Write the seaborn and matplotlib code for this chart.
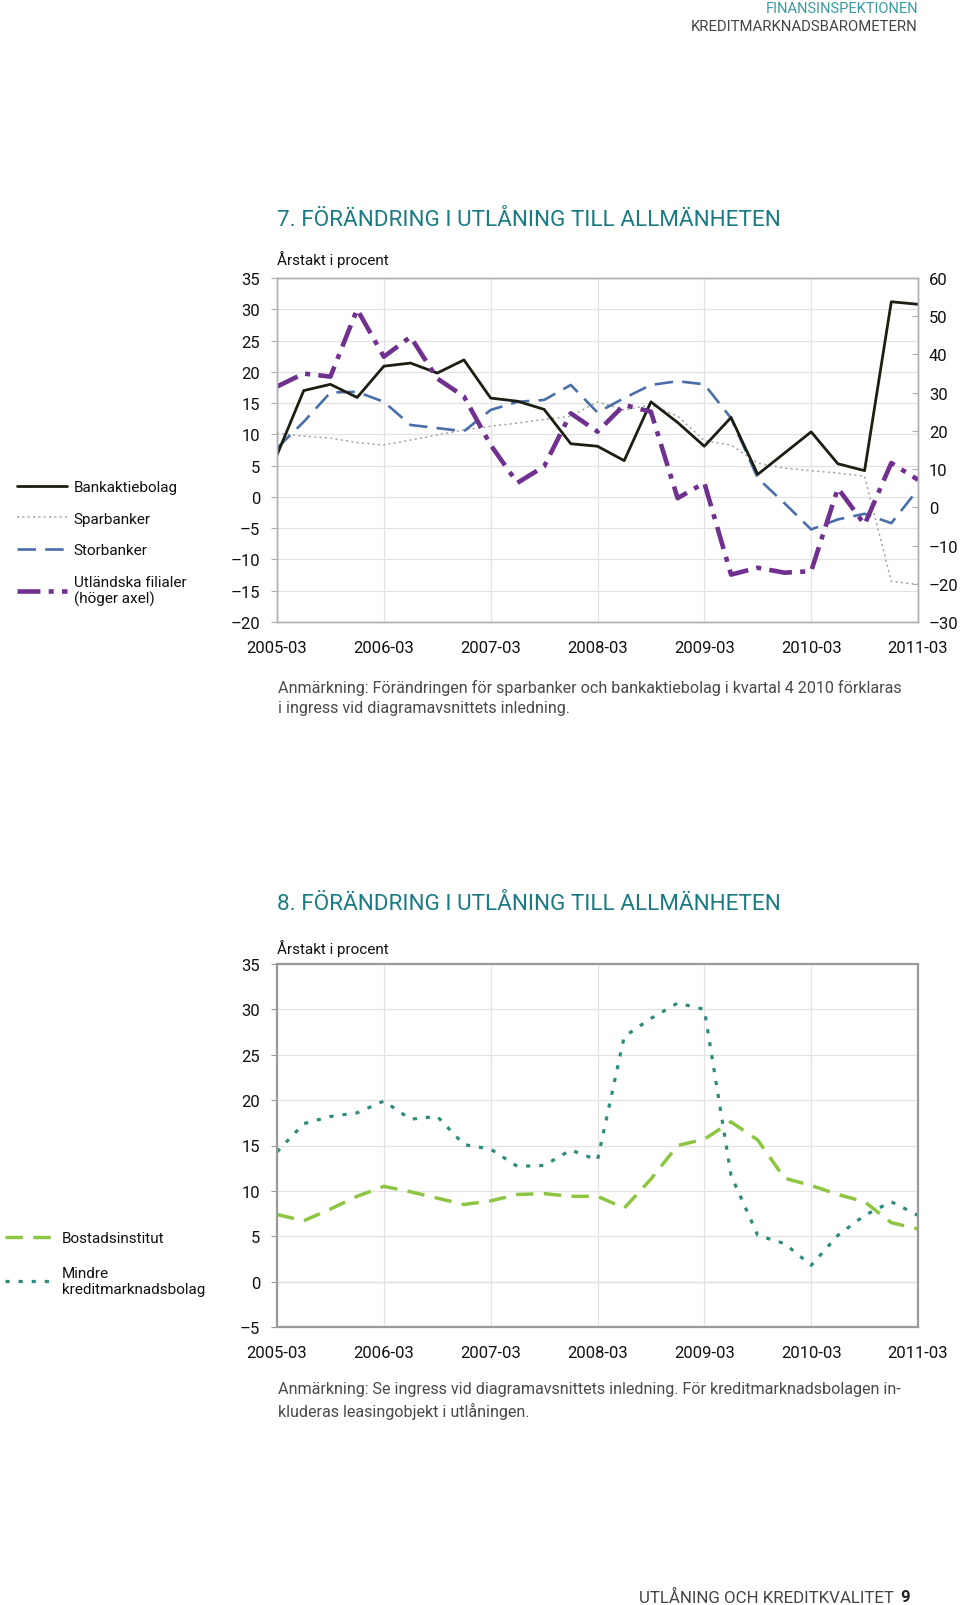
import numpy as np
import matplotlib
matplotlib.use("Agg")
import matplotlib.pyplot as plt
import seaborn as sns

quarters = ["2005-03", "2005-06", "2005-09", "2005-12",
            "2006-03", "2006-06", "2006-09", "2006-12",
            "2007-03", "2007-06", "2007-09", "2007-12",
            "2008-03", "2008-06", "2008-09", "2008-12",
            "2009-03", "2009-06", "2009-09", "2009-12",
            "2010-03", "2010-06", "2010-09", "2010-12",
            "2011-03"]

# Chart 7 (left axis unless noted)
bankaktiebolag = [6.7, 17.0, 18.0, 15.9, 20.9, 21.4, 19.8, 21.9, 15.8, 15.3, 14.0, 8.5,
                  8.1, 5.8, 15.2, 11.9, 8.1, 12.7, 3.6, 7.0, 10.4, 5.3, 4.2, 31.2, 30.8]
sparbanker = [10.2, 9.7, 9.4, 8.7, 8.3, 9.1, 9.9, 10.7, 11.3, 11.8, 12.4, 12.9,
              15.2, 13.9, 14.7, 12.9, 9.0, 8.3, 5.4, 4.6, 4.2, 3.8, 3.3, -13.5, -14.0]
storbanker = [7.8, 12.0, 16.7, 16.8, 15.2, 11.5, 11.0, 10.5, 13.9, 15.2, 15.5, 17.9,
              13.5, 15.8, 17.9, 18.5, 18.0, 12.6, 3.0, -1.0, -5.2, -3.6, -2.7, -4.2, 1.2]
utlandska_filialer = [31.6, 35.0, 34.2, 51.8, 39.4, 44.6, 33.7, 29.0, 16.3, 6.4, 10.7, 24.6,
                      19.8, 26.8, 25.0, 2.4, 6.4, -17.6, -15.8, -17.1, -16.7, 5.0, -4.5, 11.6, 7.2]  # right axis

# Chart 8
bostadsinstitut = [7.4, 6.7, 8.0, 9.4, 10.5, 9.9, 9.2, 8.5, 8.9, 9.6, 9.7, 9.4,
                   9.4, 8.1, 11.3, 15.0, 15.7, 17.6, 15.6, 11.4, 10.6, 9.6, 8.8, 6.5, 5.8]
mindre_kmb = [14.3, 17.4, 18.2, 18.6, 19.9, 17.9, 18.2, 15.1, 14.6, 12.7, 12.8, 14.5,
              13.4, 27.0, 29.0, 30.7, 30.0, 11.7, 5.1, 4.2, 1.8, 5.1, 7.3, 8.8, 7.3]

left1_ticks = [-20, -15, -10, -5, 0, 5, 10, 15, 20, 25, 30, 35]
right1_ticks = [-30, -20, -10, 0, 10, 20, 30, 40, 50, 60]
left2_ticks = [-5, 0, 5, 10, 15, 20, 25, 30, 35]
year_labels = ["2005-03", "2006-03", "2007-03", "2008-03", "2009-03", "2010-03", "2011-03"]

sns.set_theme(style="white")
plt.rcParams['font.family'] = ['Roboto', 'DejaVu Sans']

W, H = 960, 1606
fig = plt.figure(figsize=(W / 100, H / 100), dpi=100)

def fx(px):
    return px / W

def fy(py):
    return 1 - py / H

def fmt(t):
    return str(t).replace("-", "\u2013")

TEAL = "#1b7b83"
GRID = "#e2e2e2"
x = np.arange(len(quarters))
year_pos = [quarters.index(q) for q in year_labels]

def style_axis(ax, ticks, edge, lw):
    ax.set_xlim(0, len(quarters) - 1)
    ax.set_ylim(ticks[0], ticks[-1])
    ax.set_yticks(ticks)
    ax.set_yticklabels([fmt(t) for t in ticks])
    ax.set_xticks(year_pos)
    ax.set_xticklabels(year_labels)
    ax.grid(True, color=GRID, lw=0.9)
    for s in ax.spines.values():
        s.set_visible(True)
        s.set_color(edge)
        s.set_linewidth(lw)
    ax.tick_params(axis='y', which='both', left=True, length=4, width=0.8, color=edge,
                   pad=8, labelsize=12, labelcolor="#111111")
    ax.tick_params(axis='x', which='both', bottom=False, length=0, pad=13,
                   labelsize=12, labelcolor="#111111")
    ax.set_xlabel("")
    ax.set_ylabel("")

# ---------------- Chart 7 ----------------
ax1 = fig.add_axes([fx(277), fy(623), fx(918 - 277), (623 - 279) / H])
sns.lineplot(x=x, y=sparbanker, ax=ax1, color="#a0a0a0", lw=1.1,
             linestyle=(0, (1.3, 2.2)), label="Sparbanker")
h_spar = ax1.lines[-1]
sns.lineplot(x=x, y=storbanker, ax=ax1, color="#4a6fa8", lw=1.9,
             linestyle=(0, (7, 3.5)), label="Storbanker")
h_stor = ax1.lines[-1]
sns.lineplot(x=x, y=bankaktiebolag, ax=ax1, color="#1d1e12", lw=2.0, label="Bankaktiebolag")
h_bank = ax1.lines[-1]
ax1.get_legend().remove()
style_axis(ax1, left1_ticks, "#b0b0b0", 1.0)

ax1r = ax1.twinx()
sns.lineplot(x=x, y=utlandska_filialer, ax=ax1r, color="#70308f", lw=3.3,
             linestyle=(0, (5, 1.8, 1.1, 1.8)), label="Utländska filialer\n(höger axel)")
h_utl = ax1r.lines[-1]
ax1r.get_legend().remove()
ax1r.set_ylim(right1_ticks[0], right1_ticks[-1])
ax1r.set_yticks(right1_ticks)
ax1r.set_yticklabels([fmt(t) for t in right1_ticks])
ax1r.grid(False)
ax1r.set_ylabel("")
for s in ax1r.spines.values():
    s.set_color("#b0b0b0")
    s.set_linewidth(1.0)
ax1r.tick_params(axis='y', right=True, length=4, width=0.8, color="#b0b0b0",
                 direction='in', pad=8, labelsize=12, labelcolor="#111111")

fig.legend(handles=[h_bank, h_spar, h_stor, h_utl],
           labels=["Bankaktiebolag", "Sparbanker", "Storbanker", "Utländska filialer\n(höger axel)"],
           loc="upper left", bbox_to_anchor=(fx(17), fy(481)), frameon=False,
           fontsize=11, handlelength=3.3, handletextpad=0.4, labelspacing=1.15,
           borderpad=0, borderaxespad=0, labelcolor="#111111")

fig.text(fx(277), fy(220), "7. FÖRÄNDRING I UTLÅNING TILL ALLMÄNHETEN", color=TEAL,
         fontsize=16.2, ha="left", va="center")
fig.text(fx(277), fy(260), "Årstakt i procent", color="#111111", fontsize=11, ha="left", va="center")
fig.text(fx(278), fy(688), "Anmärkning: Förändringen för sparbanker och bankaktiebolag i kvartal 4 2010 förklaras",
         color="#4a4a4a", fontsize=11.6, ha="left", va="center")
fig.text(fx(278), fy(709), "i ingress vid diagramavsnittets inledning.",
         color="#4a4a4a", fontsize=11.6, ha="left", va="center")

# ---------------- Chart 8 ----------------
ax2 = fig.add_axes([fx(277), fy(1328), fx(918 - 277), (1328 - 965) / H])
sns.lineplot(x=x, y=bostadsinstitut, ax=ax2, color="#8dc641", lw=2.5,
             linestyle=(0, (5, 3)), label="Bostadsinstitut")
h_bost = ax2.lines[-1]
sns.lineplot(x=x, y=mindre_kmb, ax=ax2, color="#2e8c7c", lw=2.3,
             linestyle=(0, (1.3, 2.8)), label="Mindre\nkreditmarknadsbolag")
h_mkmb = ax2.lines[-1]
ax2.get_legend().remove()
style_axis(ax2, left2_ticks, "#9a9a9a", 1.6)
ax2.axhline(0, color="#d8d8d8", lw=1.0, zorder=0.5)

fig.legend(handles=[h_bost, h_mkmb],
           labels=["Bostadsinstitut", "Mindre\nkreditmarknadsbolag"],
           loc="upper left", bbox_to_anchor=(fx(5), fy(1232)), frameon=False,
           fontsize=11, handlelength=3.3, handletextpad=0.4, labelspacing=1.35,
           borderpad=0, borderaxespad=0, labelcolor="#111111")

fig.text(fx(277), fy(905), "8. FÖRÄNDRING I UTLÅNING TILL ALLMÄNHETEN", color=TEAL,
         fontsize=16.2, ha="left", va="center")
fig.text(fx(277), fy(949), "Årstakt i procent", color="#111111", fontsize=11, ha="left", va="center")
fig.text(fx(278), fy(1390), "Anmärkning: Se ingress vid diagramavsnittets inledning. För kreditmarknadsbolagen in-",
         color="#4a4a4a", fontsize=11.6, ha="left", va="center")
fig.text(fx(278), fy(1411), "kluderas leasingobjekt i utlåningen.",
         color="#4a4a4a", fontsize=11.6, ha="left", va="center")

# ---------------- Header / footer ----------------
fig.text(fx(918), fy(9), "FINANSINSPEKTIONEN", color="#3a9aa2", fontsize=10.5, ha="right", va="center")
fig.text(fx(918), fy(27), "KREDITMARKNADSBAROMETERN", color="#444444", fontsize=10.7, ha="right", va="center")
fig.text(fx(894), fy(1598), "UTLÅNING OCH KREDITKVALITET", color="#444444", fontsize=12.2, ha="right", va="center")
fig.text(fx(910), fy(1598), "9", color="#222222", fontsize=12, fontweight="bold", ha="right", va="center")

fig.savefig("out.png", dpi=100, facecolor="white")
